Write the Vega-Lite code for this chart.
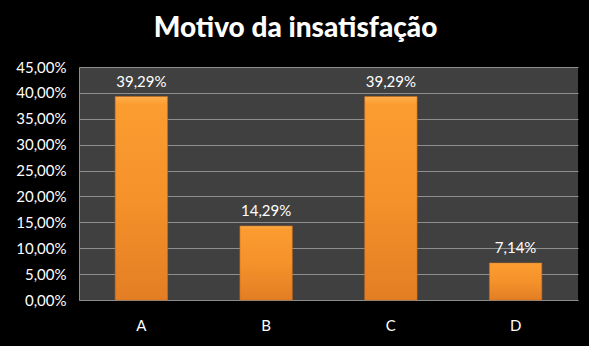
{
  "$schema": "https://vega.github.io/schema/vega-lite/v6.json",
  "width": 499,
  "height": 233,
  "autosize": {"type": "none"},
  "padding": {"left": 79, "top": 67, "right": 11, "bottom": 46},
  "background": "#000000",
  "config": {
    "locale": {"number": {"decimal": ",", "thousands": ".", "grouping": [3], "currency": ["R$", ""]}},
    "view": {"fill": "#404040", "stroke": null},
    "font": "Lato"
  },
  "title": {
    "text": "Motivo da insatisfação",
    "color": "#ffffff",
    "font": "Lato",
    "fontSize": 28,
    "fontWeight": 900,
    "anchor": "middle",
    "dx": -33,
    "offset": 17
  },
  "data": {
    "values": [
      {"motivo": "A", "valor": 0.3929},
      {"motivo": "B", "valor": 0.1429},
      {"motivo": "C", "valor": 0.3929},
      {"motivo": "D", "valor": 0.0714}
    ]
  },
  "encoding": {
    "x": {
      "field": "motivo",
      "type": "nominal",
      "scale": {"paddingInner": 0.58, "paddingOuter": 0.29},
      "axis": {
        "title": null,
        "labelAngle": 0,
        "labelColor": "#ffffff",
        "labelFontSize": 15,
        "labelPadding": 18,
        "ticks": false,
        "domainColor": "#8c8c8c",
        "domainWidth": 1
      }
    },
    "y": {
      "field": "valor",
      "type": "quantitative",
      "scale": {"domain": [0, 0.45], "nice": false},
      "axis": {
        "title": null,
        "format": ".2%",
        "values": [0, 0.05, 0.1, 0.15, 0.2, 0.25, 0.3, 0.35, 0.4, 0.45],
        "labelColor": "#ffffff",
        "labelFontSize": 15,
        "labelPadding": 13,
        "ticks": false,
        "gridColor": "#8f8f8f",
        "gridWidth": 1,
        "domainColor": "#8c8c8c"
      }
    }
  },
  "layer": [
    {
      "mark": {
        "type": "bar",
        "stroke": "#c86a1a",
        "strokeWidth": 1,
        "strokeOpacity": 0.6,
        "color": {
          "gradient": "linear",
          "x1": 0, "y1": 0, "x2": 0, "y2": 1,
          "stops": [
            {"offset": 0, "color": "#ffb04e"},
            {"offset": 0.04, "color": "#fb9c30"},
            {"offset": 0.5, "color": "#f5922a"},
            {"offset": 1, "color": "#e37e24"}
          ]
        }
      }
    },
    {
      "mark": {"type": "text", "baseline": "bottom", "dy": -7, "color": "#ffffff", "fontSize": 15},
      "encoding": {"text": {"field": "valor", "type": "quantitative", "format": ".2%"}}
    }
  ]
}
